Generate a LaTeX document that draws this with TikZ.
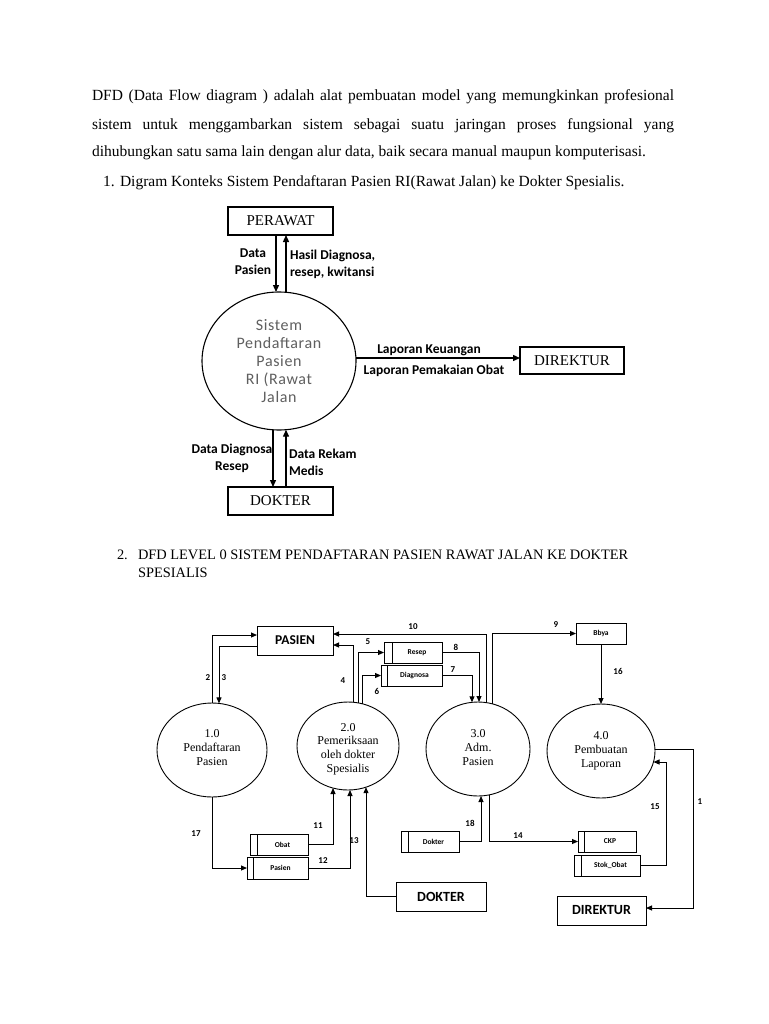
\documentclass[tikz,border=0pt]{standalone}
\usepackage{fontspec}
\setmainfont{Liberation Serif}
\newfontfamily\calfont{Carlito}
\newfontfamily\callight[LetterSpace=4]{Carlito}
\usetikzlibrary{shapes.geometric,arrows.meta,calc}
\definecolor{ctxgray}{RGB}{95,95,95}
\begin{document}
\begin{tikzpicture}[x=1pt,y=-1pt,
  every node/.style={inner sep=0pt, outer sep=0pt},
  body/.style={font=\fontsize{15.5}{18}\selectfont, anchor=base west},
  title/.style={font=\fontsize{14.4}{18}\selectfont, anchor=base west},
  ebox/.style={draw, line width=1.5pt, font=\fontsize{15}{18}\selectfont},
  ctxlbl/.style={font=\calfont\bfseries\fontsize{13.5}{17}\selectfont},
  ctxarr/.style={line width=1.3pt, -{Triangle[length=7pt,width=6pt]}},
  proc/.style={ellipse, draw, line width=0.9pt},
  ptext/.style={font=\fontsize{12}{14}\selectfont, align=center},
  lbox/.style={draw, line width=1pt, font=\calfont\bfseries\fontsize{14}{16}\selectfont},
  store/.style={draw, line width=1pt},
  stext/.style={font=\calfont\bfseries\fontsize{7.5}{9}\selectfont},
  num/.style={font=\calfont\bfseries\fontsize{9}{10}\selectfont},
  arr/.style={line width=1pt, -{Triangle[length=6pt,width=5pt]}},
  ln/.style={line width=1pt},
]
\useasboundingbox (0,0) rectangle (768,1024);
\fill[white] (0,0) rectangle (768,1024);

% ---------- body text ----------
\node[body] (l1) at (92,101) {\makebox[582pt][s]{DFD (Data Flow diagram ) adalah alat pembuatan model yang memungkinkan profesional}};
\node[body] (l2) at (92,130) {\makebox[582pt][s]{sistem untuk menggambarkan sistem sebagai suatu jaringan proses fungsional yang}};
\node[body] (l3) at (92,157) {dihubungkan satu sama lain dengan alur data, baik secara manual maupun komputerisasi.};
\node[body] (n1) at (103,187) {1.};
\node[body] (i1) at (120,187) {Digram Konteks Sistem Pendaftaran Pasien RI(Rawat Jalan) ke Dokter Spesialis.};
\node[title] (n2) at (117,559) {2.};
\node[title] (i2) at (138,559) {DFD LEVEL 0 SISTEM PENDAFTARAN PASIEN RAWAT JALAN KE DOKTER};
\node[title] (i2b) at (138,577) {SPESIALIS};

% ---------- context diagram ----------
\node[ebox, minimum width=105pt, minimum height=28pt] (perawat) at (280.5,221) {PERAWAT};
\node[ebox, minimum width=104pt, minimum height=27pt] (direktur) at (572,360.5) {DIREKTUR};
\node[ebox, minimum width=105pt, minimum height=28pt] (dokter) at (280.5,501) {DOKTER};
\node[ellipse, draw, line width=1.1pt, minimum width=154pt, minimum height=138pt,
      font=\callight\fontsize{16}{18}\selectfont, text=ctxgray, align=center] (sys) at (279,361)
      {Sistem\\Pendaftaran\\Pasien\\RI (Rawat\\Jalan};

\draw[ctxarr] ($(perawat.south)+(-4.5,0)$) -- ($(sys.center)+(-3,-69)$);
\draw[ctxarr] ($(sys.center)+(7,-68.7)$) -- ($(perawat.south)+(5.5,0)$);
\draw[ctxarr] ($(sys.center)+(77,-3)$) -- ($(direktur.west)+(0,-2.5)$);
\draw[ctxarr] ($(sys.center)+(-6,68.8)$) -- ($(dokter.north)+(-7.5,0)$);
\draw[ctxarr] ($(dokter.north)+(5.5,0)$) -- ($(sys.center)+(7,68.7)$);

\node[ctxlbl, align=center] (c1) at (253,262) {Data\\Pasien};
\node[ctxlbl, align=left, anchor=west] (c2) at (290,264) {Hasil Diagnosa,\\resep, kwitansi};
\node[ctxlbl] (c3) at (429,350) {Laporan Keuangan};
\node[ctxlbl] (c4) at (434,371) {Laporan Pemakaian Obat};
\node[ctxlbl, align=center] (c5) at (232,458) {Data Diagnosa\\Resep};
\node[ctxlbl, align=left, anchor=west] (c6) at (289,462) {Data Rekam\\Medis};

% ---------- level 0 ----------
\node[proc, minimum width=110pt, minimum height=94pt] (p1) at (212,750) {};
\node[proc, minimum width=102pt, minimum height=88pt] (p2) at (348,746) {};
\node[proc, minimum width=104pt, minimum height=94pt] (p3) at (478,749) {};
\node[proc, minimum width=108pt, minimum height=94pt] (p4) at (601,751) {};
\node[ptext] (t1) at (212,748) {1.0\\Pendaftaran\\Pasien};
\node[ptext, font=\fontsize{12}{13.7}\selectfont] (t2) at (348,749) {2.0\\Pemeriksaan\\oleh dokter\\Spesialis};
\node[ptext] (t3) at (478,748) {3.0\\Adm.\\Pasien};
\node[ptext] (t4) at (601,751) {4.0\\Pembuatan\\Laporan};

\node[lbox, minimum width=76pt, minimum height=29pt, font=\calfont\bfseries\fontsize{13.5}{16}\selectfont] (pasien) at (295,640.5) {PASIEN};
\node[lbox, minimum width=90pt, minimum height=29pt] (dokter2) at (441,896.5) {DOKTER};
\node[lbox, minimum width=89pt, minimum height=29pt] (direktur2) at (601.5,910.5) {DIREKTUR};
\node[store, minimum width=50pt, minimum height=21pt, stext] (bbya) at (601,633.5) {Bbya};

\node[store, minimum width=58pt, minimum height=21pt] (resep) at (413,652.5) {};
\node[store, minimum width=61pt, minimum height=21pt] (diag) at (411.5,675.5) {};
\node[store, minimum width=58pt, minimum height=21pt] (obat) at (279,844.5) {};
\node[store, minimum width=61pt, minimum height=22pt] (pstore) at (277.5,868) {};
\node[store, minimum width=58pt, minimum height=21pt] (dstore) at (430,841.5) {};
\node[store, minimum width=58pt, minimum height=21pt] (ckp) at (607,841.5) {};
\node[store, minimum width=66pt, minimum height=21pt] (stok) at (607,865.5) {};
\foreach \n/\d/\t in {resep/8/Resep, diag/6/Diagnosa, obat/7/Obat, pstore/6/Pasien, dstore/7/Dokter, ckp/6/CKP, stok/7/Stok\_Obat}{
  \draw[ln] ($(\n.north west)+(\d,0)$) -- ($(\n.south west)+(\d,0)$);
  \node[stext] at ($(\n.center)+(\d/2,0)$) {\t};
}

% flows
\draw[arr] (p1.north) |- ($(pasien.west)+(0,-5.5)$);
\draw[arr] ($(pasien.west)+(0,5.5)$) -| ($(p1.center)+(7,-46.6)$);
\draw[arr] ($(p2.center)+(5,-43.8)$) |- ($(pasien.east)+(0,4.5)$);
\draw[arr] ($(p3.center)+(8,-46.4)$) |- ($(pasien.east)+(0,-6.5)$);
\draw[arr] ($(p2.center)+(10,-43.1)$) |- (resep.west);
\draw[arr] ($(p2.center)+(14,-42.3)$) |- (diag.west);
\draw[arr] (resep.east) -| ($(p3.center)+(1,-47)$);
\draw[arr] (diag.east) -| ($(p3.center)+(-6,-46.7)$);
\draw[arr] ($(p3.center)+(14,-45.3)$) |- (bbya.west);
\draw[arr] (bbya.south) -- (p4.north);
\draw[arr] ($(p4.center)+(54,-2)$) -- ++(38,0) |- ($(direktur2.east)+(0,-2.5)$);
\draw[arr] (stok.east) -- ++(26,0) |- ($(p4.center)+(52.5,11)$);
\draw[arr] ($(p3.center)+(11,45.9)$) |- (ckp.west);
\draw[arr] (dstore.east) -| ($(p3.center)+(3,47)$);
\draw[arr] (dokter2.west) -| ($(p2.center)+(18,41.2)$);
\draw[arr] (pstore.east) -| ($(p2.center)+(2,44)$);
\draw[arr] (obat.east) -| ($(p2.center)+(-15,42)$);
\draw[arr] (p1.south) |- (pstore.west);

% flow numbers
\foreach \t/\x/\y in {2/208/678, 3/224/678, 4/343/681, 5/368/642, 6/377/691, 7/453/670, 8/456/647, 9/556/625, 10/413/627, 11/318/826, 12/323/861, 13/354/841, 14/518/836, 15/655/807, 16/618/671, 17/196/834, 18/470/823, 1/700/802}{
  \node[num] at (\x,\y) {\t};
}
\end{tikzpicture}
\end{document}
